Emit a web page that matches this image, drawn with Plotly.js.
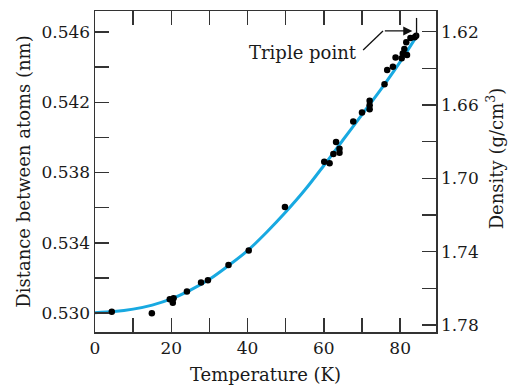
<!DOCTYPE html>
<html>
<head>
<meta charset="utf-8">
<script src="https://cdn.plot.ly/plotly-3.0.1.min.js"></script>
<style>html,body{margin:0;padding:0;background:#fff;}#chart{width:509px;height:385px;}</style>
</head>
<body>
<div id="chart"></div>
<script>
// Measured data points: temperature (K) and distance between atoms (nm)
const tempK = [4.4, 14.9, 19.6, 20.6, 20.4, 24.1, 27.8, 29.6, 35.0, 40.3,
  49.8, 60.1, 61.5, 62.5, 63.2, 64.1, 64.1,
  67.7, 70.0, 72.0, 72.0, 72.0, 75.9, 76.6, 78.1, 78.8, 80.4, 80.7, 81.1, 81.8, 81.6, 82.7, 83.8, 84.2];
const distNm = [0.53007, 0.52998, 0.53078, 0.53084, 0.53059, 0.53122, 0.53173, 0.53187, 0.53273, 0.53356,
  0.53604, 0.53861, 0.53853, 0.53905, 0.53973, 0.53935, 0.53913,
  0.54090, 0.54141, 0.54208, 0.54183, 0.54160, 0.54303, 0.54383, 0.54402, 0.54455, 0.54450, 0.54478, 0.54503, 0.54469, 0.54541, 0.54566, 0.54570, 0.54579];
// Fitted curve
const curveT = [0, 5, 10, 15, 20, 25, 30, 35, 40, 45, 50, 55, 60, 65, 70, 75, 80, 84];
const curveD = [0.53002, 0.53008, 0.53022, 0.53045, 0.53080, 0.53130, 0.53192, 0.53270, 0.53355, 0.53460,
  0.53575, 0.53700, 0.53840, 0.53985, 0.54130, 0.54275, 0.54430, 0.54565];
// Triple point
const tripleT = 84.2;
const tripleD = 0.54579;

const font = {family: 'DejaVu Serif, serif', size: 17, color: '#1a1a1a'};
const titleFont = {family: 'DejaVu Serif, serif', size: 18, color: '#1a1a1a'};
const axisCol = '#333';

const traces = [
  {x: curveT, y: curveD, mode: 'lines', line: {color: '#18a9e1', width: 3, shape: 'spline', smoothing: 1}, hoverinfo: 'skip'},
  {x: tempK, y: distNm, mode: 'markers', marker: {color: '#000', size: 6.5}},
  {x: [0], y: [1.70], yaxis: 'y2', mode: 'markers', marker: {opacity: 0}, hoverinfo: 'skip'}
];

const layout = {
  width: 509, height: 385,
  margin: {l: 95, r: 73, t: 11, b: 53},
  showlegend: false,
  paper_bgcolor: '#fff', plot_bgcolor: '#fff',
  font: font,
  xaxis: {
    range: [0, 89.4], tick0: 0, dtick: 20, ticks: 'inside', ticklen: 14, tickwidth: 1.5, tickcolor: axisCol,
    minor: {dtick: 10, ticks: 'inside', ticklen: 14, tickwidth: 1.5, tickcolor: axisCol},
    showline: true, linecolor: axisCol, linewidth: 1.5, mirror: 'ticks', showgrid: false, zeroline: false,
    title: {text: 'Temperature (K)', font: titleFont, standoff: 14},
    automargin: false, fixedrange: true
  },
  yaxis: {
    range: [0.528918, 0.547196], tick0: 0.530, dtick: 0.004, tickformat: '.3f',
    ticks: 'inside', ticklen: 14, tickwidth: 1.5, tickcolor: axisCol,
    minor: {dtick: 0.002, ticks: 'inside', ticklen: 14, tickwidth: 1.5, tickcolor: axisCol},
    showline: true, linecolor: axisCol, linewidth: 1.5, showgrid: false, zeroline: false,
    title: {text: 'Distance between atoms (nm)', font: titleFont, standoff: 6},
    automargin: false, fixedrange: true
  },
  yaxis2: {
    overlaying: 'y', side: 'right', anchor: 'x',
    range: [1.78382, 1.6087], tick0: 1.62, dtick: 0.04, tickformat: '.2f',
    ticks: 'inside', ticklen: 14, tickwidth: 1.5, tickcolor: axisCol,
    minor: {dtick: 0.02, ticks: 'inside', ticklen: 14, tickwidth: 1.5, tickcolor: axisCol},
    showline: true, linecolor: axisCol, linewidth: 1.5, showgrid: false, zeroline: false,
    automargin: false, fixedrange: true
  },
  shapes: [
    // diagonal leader from label
    {type: 'line', xref: 'x', yref: 'y', x0: tripleT - 13.9, y0: tripleD - 0.00081, x1: tripleT - 8.7, y1: tripleD + 0.00027,
     line: {color: '#111', width: 1.3}},
    // vertical marker at the triple point
    {type: 'line', xref: 'x', yref: 'y', x0: tripleT + 0.1, y0: tripleD - 0.00007, x1: tripleT + 0.1, y1: tripleD + 0.00101,
     line: {color: '#111', width: 1.3}}
  ],
  annotations: [
    {x: tripleT - 13.9, y: tripleD - 0.00081, xref: 'x', yref: 'y', text: 'Triple point', showarrow: false,
     xanchor: 'right', yanchor: 'middle', xshift: -4, yshift: -3, font: titleFont},
    {x: tripleT - 1.0, y: tripleD + 0.00027, xref: 'x', yref: 'y', text: '', showarrow: true,
     ax: -29, ay: 0, arrowhead: 2, arrowsize: 1.4, arrowwidth: 1.3, arrowcolor: '#111'},
    // right-hand axis title (density)
    {x: 1.174, y: 0.542, xref: 'paper', yref: 'paper', text: 'Density (g/cm<sup>3</sup>)', showarrow: false,
     textangle: -90, xanchor: 'center', yanchor: 'middle', font: titleFont}
  ]
};

Plotly.newPlot('chart', traces, layout, {displayModeBar: false, staticPlot: true});
</script>
</body>
</html>
